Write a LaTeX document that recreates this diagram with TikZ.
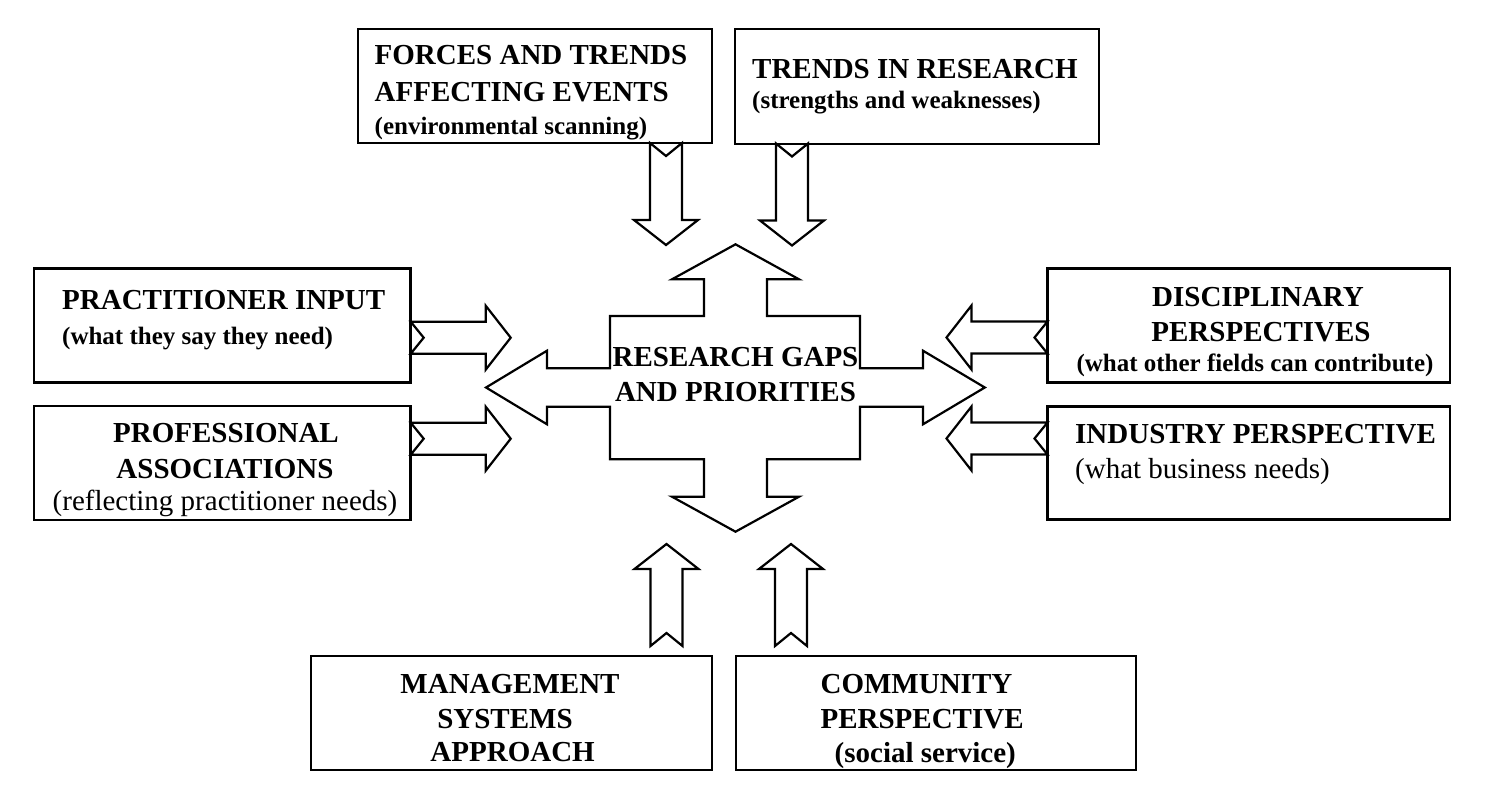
\documentclass[tikz,border=0pt]{standalone}
\usepackage{fontspec}
\setmainfont{Liberation Serif}
\begin{document}
\begin{tikzpicture}[x=1pt,y=-1pt,
  box/.style={draw, line width=2.6pt, inner sep=0pt, minimum width=#1},
  outline/.style={draw, line width=2.2pt, line join=miter, fill=white},
  head/.style={font=\fontsize{29}{35}\selectfont\bfseries, inner sep=0pt},
  sub/.style={font=\fontsize{25}{30}\selectfont\bfseries, inner sep=0pt},
  plain/.style={font=\fontsize{29}{35}\selectfont, inner sep=0pt},
  blockarrow/.pic={
    \path[outline] (0,-16) -- (#1-25,-16) -- (#1-25,-32) -- (#1,0)
      -- (#1-25,32) -- (#1-25,16) -- (0,16) -- (13,0) -- cycle;
  }]
\useasboundingbox (0,0) rectangle (1494,808);

% boxes
\node[box=354pt, minimum height=114pt] (forces) at (535,86) {};
\node[box=364pt, minimum height=115pt] (trends) at (917,86.5) {};
\node[box=376.7pt, minimum height=114pt] (practitioner) at (222.3,325.3) {};
\node[box=376.7pt, minimum height=114pt] (professional) at (222.3,463) {};
\node[box=402.5pt, minimum height=114pt] (disciplinary) at (1248.8,325.3) {};
\node[box=402.5pt, minimum height=113pt] (industry) at (1248.8,463) {};
\node[box=401pt, minimum height=114pt] (management) at (511.5,713) {};
\node[box=400pt, minimum height=114pt] (community) at (936,713) {};

% central four-way arrow
\path[outline] (735.5,244.3) -- (799,279.3) -- (767,279.3) -- (767,316)
  -- (860,316) -- (860,368.3) -- (923,368.3) -- (923,350.7) -- (984.8,387.5)
  -- (923,424.3) -- (923,406.7) -- (860,406.7) -- (860,459.3) -- (767,459.3)
  -- (767,496.7) -- (799,496.7) -- (735.5,531.7) -- (672,496.7) -- (704,496.7)
  -- (704,459.3) -- (610,459.3) -- (610,406.7) -- (547,406.7) -- (547,424.3)
  -- (486,387.5) -- (547,350.7) -- (547,368.3) -- (610,368.3) -- (610,316)
  -- (704,316) -- (704,279.3) -- (672,279.3) -- cycle;
\node[head, anchor=base] (hub) at (735.5,366.7) {RESEARCH GAPS};
\node[head, anchor=base] (hub2) at (735.5,401.7) {AND PRIORITIES};

% block arrows feeding the centre
\pic[rotate=-90] (fa) at (666,143) {blockarrow=102};
\pic[rotate=-90] (ta) at (792,143.5) {blockarrow=102};
\pic (pa) at (410.7,337.7) {blockarrow=100};
\pic (qa) at (410.7,438.7) {blockarrow=100};
\pic[rotate=180] (da) at (1047.5,337.5) {blockarrow=101};
\pic[rotate=180] (ia) at (1047.5,438.5) {blockarrow=101};
\pic[rotate=90] (ma) at (666.5,646) {blockarrow=102};
\pic[rotate=90] (ca) at (791,646) {blockarrow=102};

% texts
\node[head, anchor=base west] (f1) at (374.5,65) {FORCES AND TRENDS};
\node[head, anchor=base west] (f2) at (374.5,102) {AFFECTING EVENTS};
\node[sub, anchor=base west] (f3) at (374.5,134) {(environmental scanning)};

\node[head, anchor=base west] (t1) at (752,78) {TRENDS IN RESEARCH};
\node[sub, anchor=base west] (t2) at (752,108) {(strengths and weaknesses)};

\node[head, anchor=base west] (p1) at (62,309) {PRACTITIONER INPUT};
\node[sub, anchor=base west] (p2) at (62,344) {(what they say they need)};

\node[head, anchor=base] (r1) at (226,442) {PROFESSIONAL};
\node[head, anchor=base] (r2) at (225,478) {ASSOCIATIONS};
\node[plain, anchor=base] (r3) at (225,510) {(reflecting practitioner needs)};

\node[head, anchor=base] (d1) at (1258,306) {DISCIPLINARY};
\node[head, anchor=base] (d2) at (1261,341) {PERSPECTIVES};
\node[sub, anchor=base] (d3) at (1255,371) {(what other fields can contribute)};

\node[head, anchor=base west] (i1) at (1075,443) {INDUSTRY PERSPECTIVE};
\node[plain, anchor=base west] (i2) at (1075,478) {(what business needs)};

\node[head, anchor=base] (m1) at (510,693) {MANAGEMENT};
\node[head, anchor=base] (m2) at (505,728) {SYSTEMS};
\node[head, anchor=base] (m3) at (512.6,761.7) {APPROACH};

\node[head, anchor=base west] (c1) at (820.4,693) {COMMUNITY};
\node[head, anchor=base west] (c2) at (820.4,728) {PERSPECTIVE};
\node[head, anchor=base west] (c3) at (834.5,762) {(social service)};
\end{tikzpicture}
\end{document}
